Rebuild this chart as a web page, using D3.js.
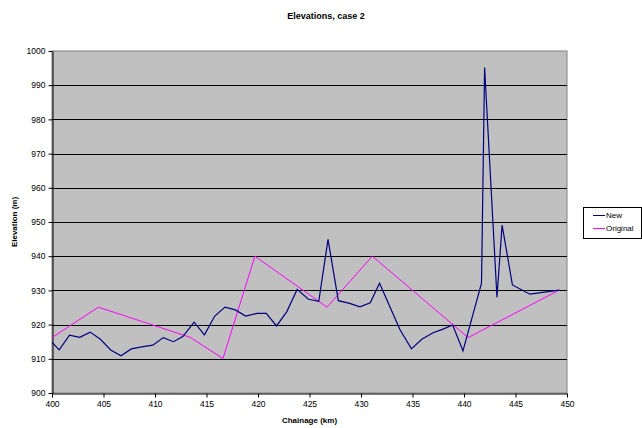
<!DOCTYPE html>
<html lang="en">
<head>
    <meta charset="utf-8" />
    <script src="https://d3js.org/d3.v7.min.js"></script>
    <style>
        body { margin: 0; background: #fff; }
        text { font-family: "Liberation Sans", Arial, sans-serif; }
    </style>
</head>
<body>
    <script>

        // New profile: chainage (km) and elevation (m)
        const newKm = [400, 400.7, 401.7, 402.7, 403.7, 404.7, 405.7, 406.7, 407.7, 408.7,
            409.8, 410.8, 411.8, 412.7, 413.8, 414.8, 415.8, 416.8, 417.8, 418.8,
            419.9, 420.8, 421.8, 422.8, 423.8, 424.9, 425.9, 426.8, 427.8, 428.9,
            429.9, 430.9, 431.8, 433.8, 434.9, 435.9, 437.0, 437.9, 438.9, 439.9,
            441.7, 442.0, 443.2, 443.7, 444.7, 446.4, 449.25];
        const newElev = [914.8, 912.6, 916.9, 916.3, 917.8, 915.7, 912.6, 910.9, 912.9, 913.5,
            914.0, 916.2, 915.0, 916.5, 920.7, 917.0, 922.5, 925.1, 924.3, 922.5,
            923.3, 923.3, 919.6, 923.8, 930.3, 927.4, 926.8, 944.9, 927.0, 926.2,
            925.2, 926.4, 932.1, 918.4, 912.9, 915.7, 917.6, 918.6, 919.9, 912.3,
            932.1, 995.2, 928.0, 949.1, 931.6, 928.9, 930.1];

        // Original profile
        const origKm = [400, 404.5, 413.4, 416.6, 419.7, 426.7, 431.1, 440.4, 449.25];
        const origElev = [916.2, 925.1, 916.3, 910.1, 940.0, 925.1, 940.0, 916.2, 930.1];

        const xTicks = d3.range(400, 451, 5);
        const yTicks = d3.range(900, 1001, 10);

        const w = 642;
        const h = 428;
        const plot = { left: 52, right: 567, top: 51, bottom: 393 };

        const svg = d3.select("body")
            .append("svg")
            .attr("width", w)
            .attr("height", h)
            .style("background-color", "#fff");

        const xScale = d3.scaleLinear().domain([400, 450]).range([plot.left, plot.right]);
        const yScale = d3.scaleLinear().domain([900, 1000]).range([plot.bottom, plot.top]);

        // plot background
        svg.append("rect")
            .attr("x", plot.left)
            .attr("y", plot.top)
            .attr("width", plot.right - plot.left)
            .attr("height", plot.bottom - plot.top)
            .style("fill", "#c0c0c0")
            .style("stroke", "#808080")
            .style("stroke-width", 1);

        // gridlines
        svg.append("g")
            .selectAll("line")
            .data(yTicks.filter(d => d > 900 && d < 1000))
            .enter()
            .append("line")
            .attr("x1", plot.left)
            .attr("x2", plot.right)
            .attr("y1", d => Math.round(yScale(d)) + 0.5)
            .attr("y2", d => Math.round(yScale(d)) + 0.5)
            .style("stroke", "#000")
            .style("stroke-width", 1);

        const xAxis = d3.axisBottom(xScale).tickValues(xTicks).tickFormat(d3.format("d"))
            .tickSize(4).tickSizeOuter(0).tickPadding(3);
        const yAxis = d3.axisLeft(yScale).tickValues(yTicks).tickFormat(d3.format("d"))
            .tickSize(4).tickSizeOuter(0).tickPadding(3);

        const gx = svg.append("g")
            .attr("transform", "translate(0," + (plot.bottom + 0.5) + ")")
            .call(xAxis);
        const gy = svg.append("g")
            .attr("transform", "translate(" + (plot.left + 0.5) + ",0)")
            .call(yAxis);

        [gx, gy].forEach(g => {
            g.selectAll("text").style("font-size", "8.5px").style("fill", "#000");
            g.selectAll("line").style("stroke", "#000");
            g.select(".domain").style("stroke", "#000");
        });

        const line = d3.line()
            .x(d => xScale(d[0]))
            .y(d => yScale(d[1]));

        svg.append("path")
            .datum(origKm.map((k, i) => [k, origElev[i]]))
            .attr("d", line)
            .style("fill", "none")
            .style("stroke", "#ff00ff")
            .style("stroke-width", 1);

        svg.append("path")
            .datum(newKm.map((k, i) => [k, newElev[i]]))
            .attr("d", line)
            .style("fill", "none")
            .style("stroke", "#000080")
            .style("stroke-width", 1.2);

        // titles
        svg.append("text")
            .attr("x", 326)
            .attr("y", 19)
            .attr("text-anchor", "middle")
            .style("font-size", "9px")
            .style("font-weight", "bold")
            .text("Elevations, case 2");

        svg.append("text")
            .attr("x", (plot.left + plot.right) / 2)
            .attr("y", 423)
            .attr("text-anchor", "middle")
            .style("font-size", "8px")
            .style("font-weight", "bold")
            .text("Chainage (km)");

        svg.append("text")
            .attr("transform", "translate(17," + ((plot.top + plot.bottom) / 2) + ") rotate(-90)")
            .attr("text-anchor", "middle")
            .style("font-size", "8px")
            .style("font-weight", "bold")
            .text("Elevation (m)");

        // legend
        const legend = svg.append("g");
        legend.append("rect")
            .attr("x", 583.5)
            .attr("y", 207.5)
            .attr("width", 58)
            .attr("height", 31)
            .style("fill", "#fff")
            .style("stroke", "#000")
            .style("stroke-width", 1);

        const series = [["New", "#000080"], ["Original", "#ff00ff"]];
        series.forEach((s, i) => {
            const yy = 215 + i * 13;
            legend.append("line")
                .attr("x1", 593)
                .attr("x2", 605)
                .attr("y1", yy + 0.5)
                .attr("y2", yy + 0.5)
                .style("stroke", s[1])
                .style("stroke-width", 1);
            legend.append("text")
                .attr("x", 606)
                .attr("y", yy + 3)
                .style("font-size", "8px")
                .text(s[0]);
        });

    </script>
</body>
</html>
